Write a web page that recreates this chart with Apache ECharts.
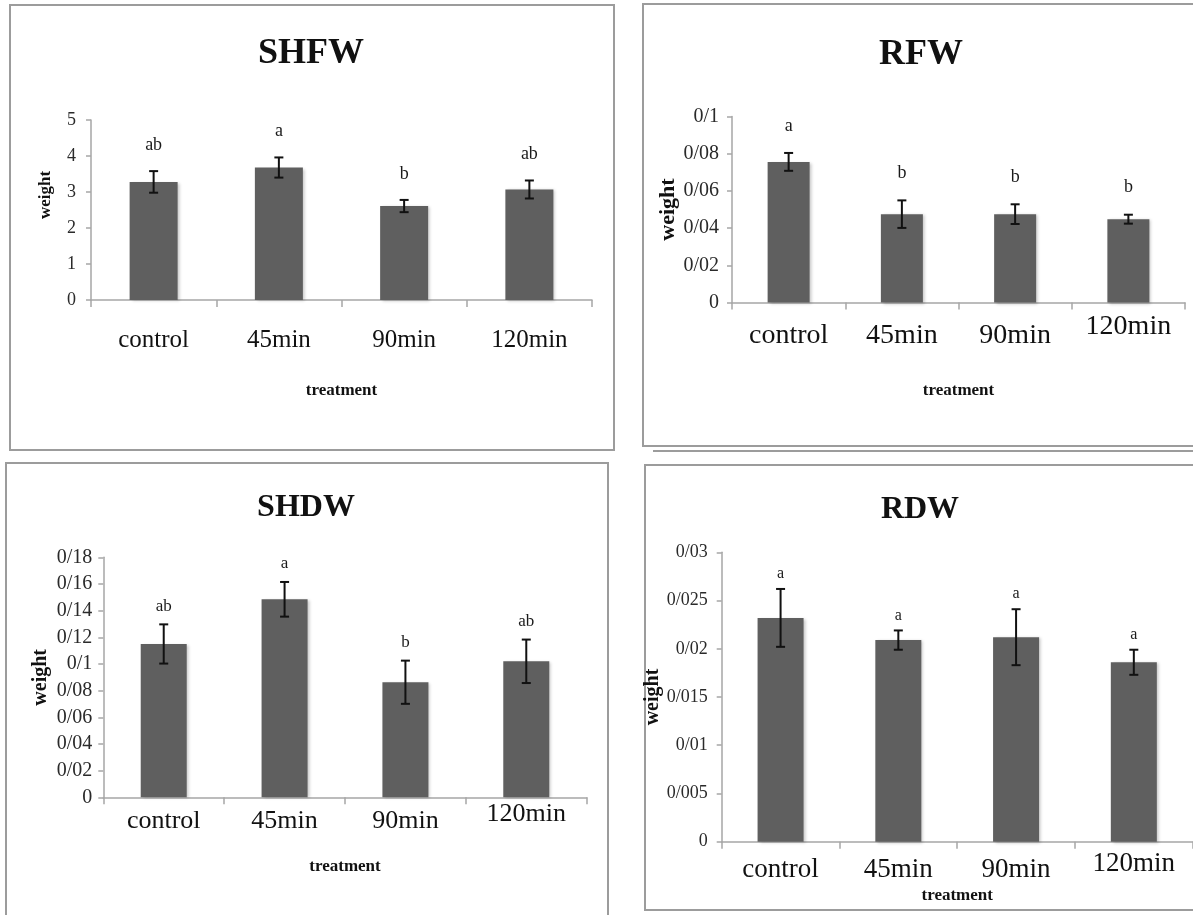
<!DOCTYPE html>
<html><head><meta charset="utf-8">
<script src="https://cdn.jsdelivr.net/npm/echarts@6/dist/echarts.min.js"></script>
<style>html,body{margin:0;padding:0;background:#fff;overflow:hidden}#c{width:1193px;height:915px}</style>
</head><body><div id="c"></div>
<script>
// ---------- data ----------
const categories = ['control', '45min', '90min', '120min'];

const shfwValues  = [3.28, 3.68, 2.61, 3.07];
const shfwErrors  = [0.30, 0.28, 0.17, 0.25];
const shfwLetters = ['ab', 'a', 'b', 'ab'];
const shfwTicks   = ['0', '1', '2', '3', '4', '5'];

const rfwValues  = [0.0756, 0.0475, 0.0475, 0.0448];
const rfwErrors  = [0.0048, 0.0074, 0.0053, 0.0024];
const rfwLetters = ['a', 'b', 'b', 'b'];
const rfwTicks   = ['0', '0/02', '0/04', '0/06', '0/08', '0/1'];

const shdwValues  = [0.115, 0.1485, 0.0863, 0.102];
const shdwErrors  = [0.0147, 0.0130, 0.0162, 0.0163];
const shdwLetters = ['ab', 'a', 'b', 'ab'];
const shdwTicks   = ['0', '0/02', '0/04', '0/06', '0/08', '0/1', '0/12', '0/14', '0/16', '0/18'];

const rdwValues  = [0.0232, 0.0209, 0.0212, 0.0186];
const rdwErrors  = [0.0030, 0.0010, 0.0029, 0.0013];
const rdwLetters = ['a', 'a', 'a', 'a'];
const rdwTicks   = ['0', '0/005', '0/01', '0/015', '0/02', '0/025', '0/03'];

const titles = ['SHFW', 'RFW', 'SHDW', 'RDW'];
const yName = 'weight';
const xName = 'treatment';

// ---------- layout / style ----------
const SERIF = "'Liberation Serif', 'Times New Roman', serif";
const panels = [
  { title: titles[0], values: shfwValues, errors: shfwErrors, letters: shfwLetters, ticks: shfwTicks, max: 5, interval: 1,
    grid: { left: 91, top: 120, width: 501, height: 180 }, tcx: 311, tcy: 54, tfs: 36,
    barW: 48, tickFs: 18, tickMargin: 15, catFs: 25, catMargin: 28, lastLift: 0, yNameFs: 17, yNameGap: 37, yNamePad: [0, 0, 0, 30],
    xNameGap: 82, letterGap: 26, letterFs: 18 },
  { title: titles[1], values: rfwValues, errors: rfwErrors, letters: rfwLetters, ticks: rfwTicks, max: 0.1, interval: 0.02,
    grid: { left: 732, top: 116.5, width: 453, height: 186 }, tcx: 921, tcy: 55, tfs: 36,
    barW: 42, tickFs: 20, tickMargin: 13, catFs: 28, catMargin: 19, lastLift: 9, yNameFs: 22, yNameGap: 39, yNamePad: [0, 0, 0, 0],
    xNameGap: 80, letterGap: 27, letterFs: 18 },
  { title: titles[2], values: shdwValues, errors: shdwErrors, letters: shdwLetters, ticks: shdwTicks, max: 0.18, interval: 0.02,
    grid: { left: 103.3, top: 557.3, width: 483.4, height: 240 }, tcx: 306, tcy: 507.5, tfs: 32,
    barW: 46, tickFs: 20, tickMargin: 11, catFs: 26, catMargin: 11, lastLift: 7, yNameFs: 20, yNameGap: 52, yNamePad: [0, 0, 0, 0],
    xNameGap: 61, letterGap: 18, letterFs: 17 },
  { title: titles[3], values: rdwValues, errors: rdwErrors, letters: rdwLetters, ticks: rdwTicks, max: 0.03, interval: 0.005,
    grid: { left: 721.7, top: 552.3, width: 471, height: 289.4 }, tcx: 920, tcy: 510, tfs: 32,
    barW: 46, tickFs: 18, tickMargin: 14, catFs: 27, catMargin: 15, lastLift: 6, yNameFs: 20, yNameGap: 43, yNamePad: [0, 0, 0, 0],
    xNameGap: 45, letterGap: 15, letterFs: 16 }
];

const mctx = document.createElement('canvas').getContext('2d');
function textWidth(t, font) { mctx.font = font; return mctx.measureText(t).width; }

const AXIS_COLOR = '#a6a6a6';
const option = {
  backgroundColor: '#ffffff',
  animation: false,
  title: [], grid: [], xAxis: [], yAxis: [], series: [],
  graphic: [
    { type: 'rect', silent: true, z: -10, shape: { x: 10, y: 5, width: 604, height: 445 }, style: { fill: 'none', stroke: '#9c9c9c', lineWidth: 2 } },
    { type: 'rect', silent: true, z: -10, shape: { x: 643, y: 4, width: 620, height: 442 }, style: { fill: 'none', stroke: '#9c9c9c', lineWidth: 2 } },
    { type: 'line', silent: true, z: -10, shape: { x1: 653, y1: 451, x2: 1193, y2: 451 }, style: { stroke: '#9c9c9c', lineWidth: 2 } },
    { type: 'rect', silent: true, z: -10, shape: { x: 6, y: 463, width: 602, height: 500 }, style: { fill: 'none', stroke: '#9c9c9c', lineWidth: 2 } },
    { type: 'rect', silent: true, z: -10, shape: { x: 645, y: 465, width: 620, height: 445 }, style: { fill: 'none', stroke: '#9c9c9c', lineWidth: 2 } }
  ]
};

panels.forEach((p, i) => {
  const tFont = 'bold ' + p.tfs + 'px ' + SERIF;
  const w = textWidth(p.title, tFont);
  option.title.push({
    text: p.title, left: p.tcx - w / 2, top: p.tcy - p.tfs / 2, padding: 0,
    textStyle: { fontFamily: SERIF, fontWeight: 'bold', fontSize: p.tfs, color: '#111' }
  });
  option.grid.push(Object.assign({ containLabel: false }, p.grid));
  // the last category label sits a little higher in some panels of the original
  const catData = categories.map((c, k) => {
    if (k === categories.length - 1 && p.lastLift > 0) {
      return { value: c, textStyle: { lineHeight: p.catFs - 2 * p.lastLift } };
    }
    return c;
  });
  option.xAxis.push({
    type: 'category', gridIndex: i, data: catData, boundaryGap: true,
    axisLine: { show: true, lineStyle: { color: AXIS_COLOR, width: 1.5 } },
    axisTick: { show: true, alignWithLabel: false, length: 7, lineStyle: { color: AXIS_COLOR, width: 1.5 } },
    axisLabel: { fontFamily: SERIF, fontSize: p.catFs, color: '#111', margin: p.catMargin, interval: 0 },
    splitLine: { show: false },
    name: xName, nameLocation: 'middle', nameGap: p.xNameGap,
    nameTextStyle: { fontFamily: SERIF, fontWeight: 'bold', fontSize: 17, color: '#111' }
  });
  option.yAxis.push({
    type: 'value', gridIndex: i, min: 0, max: p.max, interval: p.interval,
    axisLine: { show: true, lineStyle: { color: AXIS_COLOR, width: 1.5 } },
    axisTick: { show: true, inside: false, length: 5, lineStyle: { color: AXIS_COLOR, width: 1.5 } },
    axisLabel: { fontFamily: SERIF, fontSize: p.tickFs, color: '#2a2a2a', margin: p.tickMargin,
      formatter: (v) => p.ticks[Math.round(v / p.interval)] },
    splitLine: { show: false },
    name: yName, nameLocation: 'middle', nameGap: p.yNameGap,
    nameTextStyle: { fontFamily: SERIF, fontWeight: 'bold', fontSize: p.yNameFs, color: '#111', padding: p.yNamePad }
  });
  option.series.push({
    type: 'bar', xAxisIndex: i, yAxisIndex: i, data: p.values, barWidth: p.barW,
    itemStyle: { color: '#5f5f5f', shadowColor: 'rgba(0,0,0,0.22)', shadowBlur: 3, shadowOffsetX: 2, shadowOffsetY: 1 }
  });
  option.series.push({
    type: 'custom', xAxisIndex: i, yAxisIndex: i, z: 5,
    data: p.values.map((v, k) => [k, v, p.errors[k]]),
    encode: { x: 0, y: 1 },
    renderItem: (params, api) => {
      const k = api.value(0), v = api.value(1), e = api.value(2);
      const t = api.coord([k, v + e]);
      const b = api.coord([k, v - e]);
      const c = 4.5;
      const st = { stroke: '#111', lineWidth: 2 };
      return {
        type: 'group',
        children: [
          { type: 'line', shape: { x1: t[0], y1: t[1], x2: b[0], y2: b[1] }, style: st },
          { type: 'line', shape: { x1: t[0] - c, y1: t[1], x2: t[0] + c, y2: t[1] }, style: st },
          { type: 'line', shape: { x1: b[0] - c, y1: b[1], x2: b[0] + c, y2: b[1] }, style: st },
          { type: 'text', style: { text: p.letters[k], x: t[0], y: t[1] - p.letterGap, align: 'center', verticalAlign: 'middle',
              fontFamily: SERIF, fontSize: p.letterFs, fill: '#1a1a1a' } }
        ]
      };
    }
  });
});

const chart = echarts.init(document.getElementById('c'), null, { renderer: 'canvas' });
chart.setOption(option);
</script>
</body></html>
